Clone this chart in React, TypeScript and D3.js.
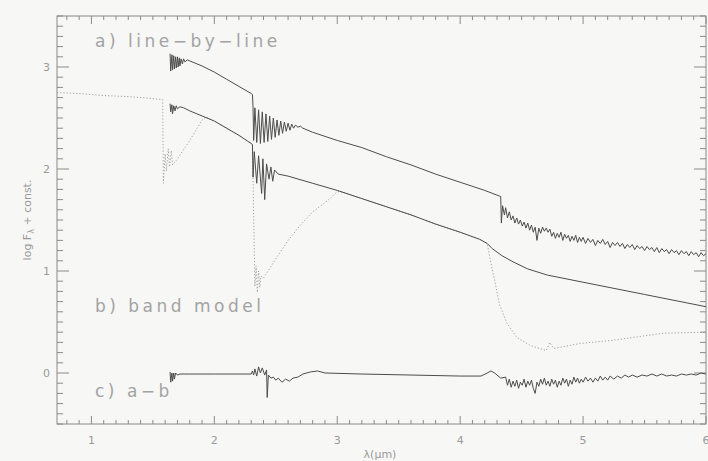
import React from "react";
import * as d3 from "d3";

const xDomain = [0.72, 6.0];
const yDomain = [-0.5, 3.5];
const xTickMajor = [1, 2, 3, 4, 5, 6];
const yTickMajor = [0, 1, 2, 3];
const panelLabels = ["a) line\u2212by\u2212line", "b) band model", "c) a\u2212b"];
const panelLabelY = [3.196, 0.598, -0.235];
const xTitle = "\u03bb(\u03bcm)";

// a) line-by-line spectrum
const lineByLine: [number, number][] = [
  [1.64, 3.13], [1.645, 2.96], [1.655, 3.12], [1.66, 2.97], [1.67, 3.11], [1.675, 2.98],
  [1.685, 3.1], [1.69, 2.99], [1.7, 3.1], [1.705, 3.0], [1.715, 3.09], [1.72, 3.01],
  [1.73, 3.08], [1.74, 3.03], [1.75, 3.08], [1.76, 3.05], [1.78, 3.07], [1.8, 3.06],
  [1.9, 3.01], [2.0, 2.95], [2.1, 2.88], [2.2, 2.81], [2.3, 2.74], [2.31, 2.73],
  [2.315, 2.6], [2.32, 2.28], [2.33, 2.6], [2.345, 2.26], [2.36, 2.58], [2.375, 2.25],
  [2.39, 2.56], [2.405, 2.26], [2.42, 2.54], [2.435, 2.27], [2.45, 2.52], [2.465, 2.29],
  [2.48, 2.5], [2.495, 2.31], [2.51, 2.48], [2.525, 2.33], [2.54, 2.47], [2.555, 2.35],
  [2.57, 2.46], [2.585, 2.37], [2.6, 2.45], [2.615, 2.38], [2.63, 2.44], [2.645, 2.4],
  [2.66, 2.43], [2.68, 2.41], [2.7, 2.42], [2.72, 2.4], [2.8, 2.36], [3.0, 2.28],
  [3.2, 2.21], [3.4, 2.12], [3.6, 2.04], [3.8, 1.95], [4.0, 1.87], [4.2, 1.79], [4.33, 1.73],
  [4.335, 1.47], [4.345, 1.64], [4.36, 1.55], [4.37, 1.62], [4.385, 1.52], [4.4, 1.58],
  [4.415, 1.5], [4.43, 1.54], [4.445, 1.47], [4.46, 1.52], [4.475, 1.46], [4.49, 1.5],
  [4.505, 1.44], [4.52, 1.48], [4.535, 1.42], [4.55, 1.47], [4.565, 1.4], [4.58, 1.45],
  [4.595, 1.38], [4.61, 1.43], [4.625, 1.3], [4.64, 1.42], [4.655, 1.37], [4.67, 1.43],
  [4.685, 1.39], [4.7, 1.42], [4.715, 1.38], [4.73, 1.41], [4.745, 1.34], [4.76, 1.38],
  [4.775, 1.32], [4.79, 1.37], [4.805, 1.33], [4.82, 1.38], [4.835, 1.3], [4.85, 1.36],
  [4.865, 1.32], [4.88, 1.35], [4.895, 1.29], [4.91, 1.34], [4.925, 1.3], [4.94, 1.35],
  [4.955, 1.28], [4.97, 1.33], [4.985, 1.29], [5.0, 1.33], [5.02, 1.27], [5.04, 1.32],
  [5.06, 1.28], [5.08, 1.31], [5.1, 1.25], [5.12, 1.3], [5.14, 1.27], [5.16, 1.31],
  [5.18, 1.26], [5.2, 1.29], [5.22, 1.23], [5.24, 1.28], [5.26, 1.25], [5.28, 1.28],
  [5.3, 1.24], [5.32, 1.27], [5.34, 1.22], [5.36, 1.26], [5.38, 1.23], [5.4, 1.26],
  [5.42, 1.21], [5.44, 1.25], [5.46, 1.22], [5.48, 1.24], [5.5, 1.2], [5.52, 1.24],
  [5.54, 1.21], [5.56, 1.23], [5.58, 1.19], [5.6, 1.23], [5.62, 1.18], [5.64, 1.22],
  [5.66, 1.19], [5.68, 1.21], [5.7, 1.17], [5.72, 1.21], [5.74, 1.18], [5.76, 1.2],
  [5.78, 1.16], [5.8, 1.2], [5.82, 1.17], [5.84, 1.19], [5.86, 1.15], [5.88, 1.19],
  [5.9, 1.16], [5.92, 1.18], [5.94, 1.14], [5.96, 1.18], [5.98, 1.15], [6.0, 1.17],
];

// b) band model spectrum
const bandModel: [number, number][] = [
  [1.64, 2.64], [1.645, 2.56], [1.655, 2.63], [1.66, 2.54], [1.67, 2.62], [1.68, 2.57],
  [1.69, 2.62], [1.7, 2.59], [1.72, 2.61], [1.75, 2.6], [1.8, 2.57], [1.9, 2.52],
  [2.0, 2.47], [2.1, 2.4], [2.2, 2.33], [2.3, 2.25], [2.31, 2.24], [2.315, 1.92],
  [2.325, 2.17], [2.345, 1.86], [2.36, 2.13], [2.385, 1.76], [2.395, 2.1], [2.41, 1.7],
  [2.425, 2.05], [2.445, 1.9], [2.46, 2.02], [2.475, 1.88], [2.49, 1.99], [2.52, 1.95],
  [2.6, 1.93], [2.8, 1.86], [3.0, 1.79], [3.2, 1.71], [3.4, 1.63], [3.6, 1.55],
  [3.8, 1.46], [4.0, 1.38], [4.16, 1.31], [4.22, 1.27], [4.26, 1.22], [4.34, 1.15],
  [4.43, 1.09], [4.55, 1.02], [4.71, 0.96], [5.0, 0.89], [5.5, 0.77], [6.0, 0.65],
];

// dotted comparison spectrum
const dottedSpectrum: [number, number][] = [
  [0.72, 2.75], [0.9, 2.74], [1.1, 2.72], [1.3, 2.71], [1.5, 2.69], [1.58, 2.68],
  [1.585, 1.86], [1.6, 2.15], [1.61, 1.98], [1.625, 2.2], [1.635, 2.02], [1.65, 2.18],
  [1.66, 2.04], [1.7, 2.1], [1.8, 2.28], [1.9, 2.48], [1.93, 2.51], [2.0, 2.47],
  [2.1, 2.4], [2.2, 2.33], [2.3, 2.25], [2.31, 2.24], [2.33, 0.85], [2.34, 1.05],
  [2.35, 0.79], [2.36, 1.0], [2.37, 0.84], [2.38, 0.95], [2.4, 0.93], [2.5, 1.12],
  [2.6, 1.3], [2.7, 1.45], [2.8, 1.58], [2.9, 1.67], [2.95, 1.72], [3.0, 1.78],
  [3.05, 1.77], [3.2, 1.71], [3.4, 1.63], [3.6, 1.55], [3.8, 1.46], [4.0, 1.38],
  [4.16, 1.31], [4.22, 1.27], [4.25, 1.08], [4.28, 0.91], [4.32, 0.67], [4.38, 0.49],
  [4.46, 0.35], [4.57, 0.27], [4.7, 0.22], [4.73, 0.3], [4.76, 0.24], [4.98, 0.29],
  [5.24, 0.32], [5.65, 0.39], [6.0, 0.4],
];

// c) difference a - b
const difference: [number, number][] = [
  [1.64, 0.01], [1.645, -0.09], [1.655, 0.0], [1.66, -0.08], [1.67, 0.0], [1.675, -0.06],
  [1.685, 0.0], [1.7, -0.02], [1.72, -0.01], [1.8, -0.01], [2.0, -0.01], [2.2, -0.01],
  [2.3, -0.01], [2.31, 0.02], [2.32, -0.02], [2.33, 0.04], [2.345, -0.03], [2.36, 0.06],
  [2.375, 0.0], [2.39, 0.05], [2.41, -0.02], [2.425, 0.03], [2.43, -0.24], [2.44, -0.02],
  [2.46, -0.05], [2.48, -0.04], [2.5, -0.07], [2.52, -0.05], [2.55, -0.09], [2.58, -0.06],
  [2.61, -0.08], [2.64, -0.05], [2.68, -0.04], [2.72, -0.01], [2.78, 0.01], [2.84, 0.02],
  [2.9, 0.0], [3.2, -0.01], [3.6, -0.02], [4.0, -0.03], [4.17, -0.03], [4.22, 0.0],
  [4.25, 0.02], [4.28, 0.0], [4.33, -0.05], [4.37, -0.04], [4.385, -0.12], [4.4, -0.06],
  [4.415, -0.14], [4.43, -0.08], [4.445, -0.13], [4.46, -0.07], [4.475, -0.15], [4.49, -0.09],
  [4.505, -0.12], [4.52, -0.06], [4.535, -0.14], [4.55, -0.08], [4.565, -0.12], [4.58, -0.07],
  [4.595, -0.15], [4.61, -0.2], [4.625, -0.09], [4.64, -0.13], [4.655, -0.06], [4.67, -0.11],
  [4.685, -0.05], [4.7, -0.12], [4.715, -0.08], [4.73, -0.13], [4.745, -0.06], [4.76, -0.11],
  [4.775, -0.07], [4.79, -0.14], [4.805, -0.08], [4.82, -0.12], [4.835, -0.05], [4.85, -0.1],
  [4.865, -0.06], [4.88, -0.13], [4.895, -0.07], [4.91, -0.11], [4.925, -0.04], [4.94, -0.09],
  [4.955, -0.05], [4.97, -0.1], [4.985, -0.06], [5.0, -0.09], [5.02, -0.04], [5.04, -0.08],
  [5.06, -0.05], [5.08, -0.09], [5.1, -0.05], [5.12, -0.08], [5.14, -0.03], [5.16, -0.07],
  [5.18, -0.04], [5.2, -0.07], [5.22, -0.03], [5.25, -0.06], [5.28, -0.03], [5.31, -0.05],
  [5.34, -0.02], [5.37, -0.04], [5.4, -0.02], [5.44, -0.04], [5.48, -0.02], [5.52, -0.03],
  [5.56, -0.01], [5.6, -0.03], [5.64, -0.01], [5.68, -0.03], [5.72, -0.02], [5.76, -0.03],
  [5.8, -0.01], [5.84, -0.02], [5.88, -0.01], [5.92, -0.02], [5.96, 0.0], [6.0, -0.01],
];

const W = 708;
const H = 461;
const M = { left: 57, right: 2, top: 16, bottom: 37 };

export default function App() {
  const x = d3.scaleLinear().domain(xDomain).range([M.left, W - M.right]);
  const y = d3.scaleLinear().domain(yDomain).range([H - M.bottom, M.top]);
  const line = d3.line<[number, number]>().x((d) => x(d[0])).y((d) => y(d[1]));

  const x0 = x.range()[0], x1 = x.range()[1];
  const y0 = y.range()[0], y1 = y.range()[1];

  const xMinor = d3.range(Math.ceil(xDomain[0] * 10), Math.floor(xDomain[1] * 10) + 1).map((v) => v / 10);
  const yMinor = d3.range(Math.ceil(yDomain[0] * 10), Math.floor(yDomain[1] * 10) + 1).map((v) => v / 10);
  const isMajor = (v: number) => Math.abs(v - Math.round(v)) < 1e-6;

  const axisColor = "#8a8a8a";
  const textColor = "#9a9a9a";
  const lineColor = "#4d4d4d";

  return (
    <svg width={W} height={H} style={{ position: "absolute", left: 0, top: 0, background: "#f7f7f6" }}
      fontFamily="DejaVu Sans, sans-serif">
      <rect x={0} y={0} width={W} height={H} fill="#f7f7f6" />
      <rect x={x0} y={y1} width={x1 - x0} height={y0 - y1} fill="none" stroke={axisColor} strokeWidth={1} />
      {xMinor.map((v) => {
        const L = isMajor(v) ? 8 : 4;
        return (
          <g key={"xt" + v}>
            <line x1={x(v)} x2={x(v)} y1={y0} y2={y0 - L} stroke={axisColor} strokeWidth={1} />
            <line x1={x(v)} x2={x(v)} y1={y1} y2={y1 + L} stroke={axisColor} strokeWidth={1} />
          </g>
        );
      })}
      {yMinor.map((v) => {
        const L = isMajor(v) ? 12 : 6;
        return (
          <g key={"yt" + v}>
            <line x1={x0} x2={x0 + L} y1={y(v)} y2={y(v)} stroke={axisColor} strokeWidth={1} />
            <line x1={x1} x2={x1 - L} y1={y(v)} y2={y(v)} stroke={axisColor} strokeWidth={1} />
          </g>
        );
      })}
      {xTickMajor.map((v) => (
        <text key={"xl" + v} x={x(v)} y={y0 + 20} textAnchor="middle" fontSize={11} fill={textColor}>{v}</text>
      ))}
      {yTickMajor.map((v) => (
        <text key={"yl" + v} x={x0 - 7} y={y(v) + 4} textAnchor="end" fontSize={11} fill={textColor}>{v}</text>
      ))}
      <text x={380} y={H - 3} textAnchor="middle" fontSize={11} fill={textColor}>{xTitle}</text>
      <text transform={`translate(31, ${y(1.5)}) rotate(-90)`} textAnchor="middle" fontSize={11} fill={textColor}>
        log F<tspan fontSize={8} dy={3}>{"\u03bb"}</tspan><tspan dy={-3}> + const.</tspan>
      </text>
      {panelLabels.map((t, i) => (
        <text key={"pl" + i} x={95} y={y(panelLabelY[i])} fontSize={17} letterSpacing={3.5} fill="#a3a3a3">{t}</text>
      ))}
      <path d={line(dottedSpectrum) || ""} fill="none" stroke="#a0a0a0" strokeWidth={1} strokeDasharray="1.2,2" />
      <path d={line(lineByLine) || ""} fill="none" stroke={lineColor} strokeWidth={1} />
      <path d={line(bandModel) || ""} fill="none" stroke={lineColor} strokeWidth={1} />
      <path d={line(difference) || ""} fill="none" stroke={lineColor} strokeWidth={1} />
    </svg>
  );
}
